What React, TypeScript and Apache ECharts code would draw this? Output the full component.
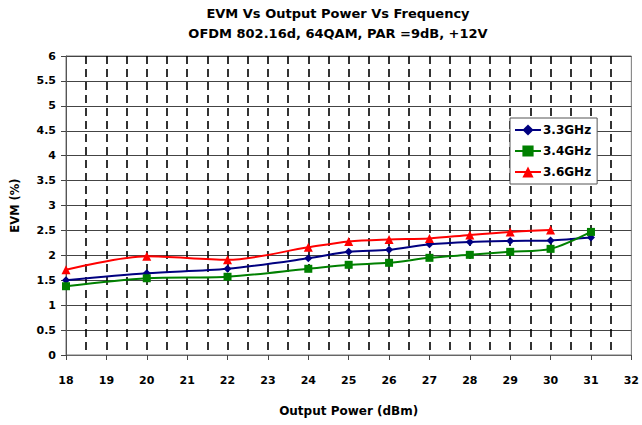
import React, { useEffect, useRef } from "react";
import * as echarts from "echarts";

const powerDbm = [18, 20, 22, 24, 25, 26, 27, 28, 29, 30, 31];
const evm33 = [1.5, 1.64, 1.73, 1.94, 2.07, 2.11, 2.22, 2.27, 2.29, 2.3, 2.36];
const evm34 = [1.38, 1.54, 1.57, 1.73, 1.81, 1.85, 1.95, 2.01, 2.07, 2.13, 2.47];
const evm36 = [1.71, 1.98, 1.91, 2.16, 2.28, 2.32, 2.34, 2.41, 2.47, 2.51];
const seriesNames = ["3.3GHz", "3.4GHz", "3.6GHz"];
const titleLines = ["EVM Vs Output Power Vs Frequency", "OFDM 802.16d, 64QAM, PAR =9dB, +12V"];

const FONT = "'DejaVu Sans', sans-serif";

function pairs(ys: number[]) {
  return ys.map((y, i) => [powerDbm[i], y]);
}

export default function App() {
  const ref = useRef<HTMLDivElement>(null);
  useEffect(() => {
    if (!ref.current) return;
    const chart = echarts.init(ref.current, undefined, { renderer: "svg" });
    const dash = { color: "#000", width: 1.6, type: [8, 5] as any };
    chart.setOption({
      animation: false,
      backgroundColor: "#fff",
      title: {
        text: titleLines.join("\n"),
        left: 333,
        textAlign: "center",
        top: -2,
        textStyle: { fontFamily: FONT, fontWeight: "bold", fontSize: 13, color: "#000", lineHeight: 20 },
      },
      legend: {
        orient: "vertical",
        left: 510,
        top: 118,
        padding: [6, 6, 6, 4],
        itemGap: 9,
        itemWidth: 26,
        itemHeight: 14,
        borderColor: "#555",
        borderWidth: 1,
        backgroundColor: "#fff",
        textStyle: { fontFamily: FONT, fontWeight: "bold", fontSize: 12, color: "#000", padding: [0, 0, 0, -3] },
        data: seriesNames,
      },
      grid: {
        left: 66,
        right: 8,
        top: 56,
        bottom: 70,
        show: true,
        borderColor: "#777",
        borderWidth: 1,
        backgroundColor: "transparent",
      },
      xAxis: {
        type: "value",
        min: 18,
        max: 32,
        interval: 1,
        name: "Output Power (dBm)",
        nameLocation: "middle",
        nameGap: 50,
        nameTextStyle: { fontFamily: FONT, fontWeight: "bold", fontSize: 12, color: "#000" },
        axisLine: { show: true, onZero: false, lineStyle: { color: "#666", width: 1 } },
        axisTick: { show: true, length: 5, lineStyle: { color: "#444" } },
        axisLabel: { margin: 20, fontFamily: FONT, fontWeight: "bold", fontSize: 11, color: "#000" },
        splitLine: { show: true, showMinLine: false, showMaxLine: false, lineStyle: dash },
        minorTick: { show: false, splitNumber: 2 },
        minorSplitLine: { show: true, lineStyle: dash },
      },
      yAxis: {
        type: "value",
        min: 0,
        max: 6,
        interval: 0.5,
        name: "EVM (%)",
        nameLocation: "middle",
        nameGap: 45,
        nameTextStyle: { fontFamily: FONT, fontWeight: "bold", fontSize: 11.5, color: "#000" },
        axisLine: { show: true, lineStyle: { color: "#555", width: 1 } },
        axisTick: { show: true, length: 5, lineStyle: { color: "#444" } },
        axisLabel: { margin: 10, fontFamily: FONT, fontWeight: "bold", fontSize: 11, color: "#000" },
        splitLine: { show: true, lineStyle: { color: "#444", width: 1 } },
      },
      series: [
        {
          name: seriesNames[0],
          type: "line",
          smooth: 0.3,
          data: pairs(evm33),
          symbol: "diamond",
          symbolSize: 8,
          itemStyle: { color: "#000080" },
          lineStyle: { color: "#000080", width: 2 },
          z: 3,
        },
        {
          name: seriesNames[1],
          type: "line",
          smooth: 0.3,
          data: pairs(evm34),
          symbol: "rect",
          symbolSize: 8,
          itemStyle: { color: "#008000" },
          lineStyle: { color: "#008000", width: 2 },
          z: 3,
        },
        {
          name: seriesNames[2],
          type: "line",
          smooth: 0.3,
          data: pairs(evm36),
          symbol: "triangle",
          symbolSize: 9,
          itemStyle: { color: "#ff0000" },
          lineStyle: { color: "#ff0000", width: 2 },
          z: 3,
        },
      ],
    });
    return () => chart.dispose();
  }, []);
  return <div ref={ref} style={{ width: 642, height: 425, position: "absolute", left: 0, top: 0 }} />;
}
